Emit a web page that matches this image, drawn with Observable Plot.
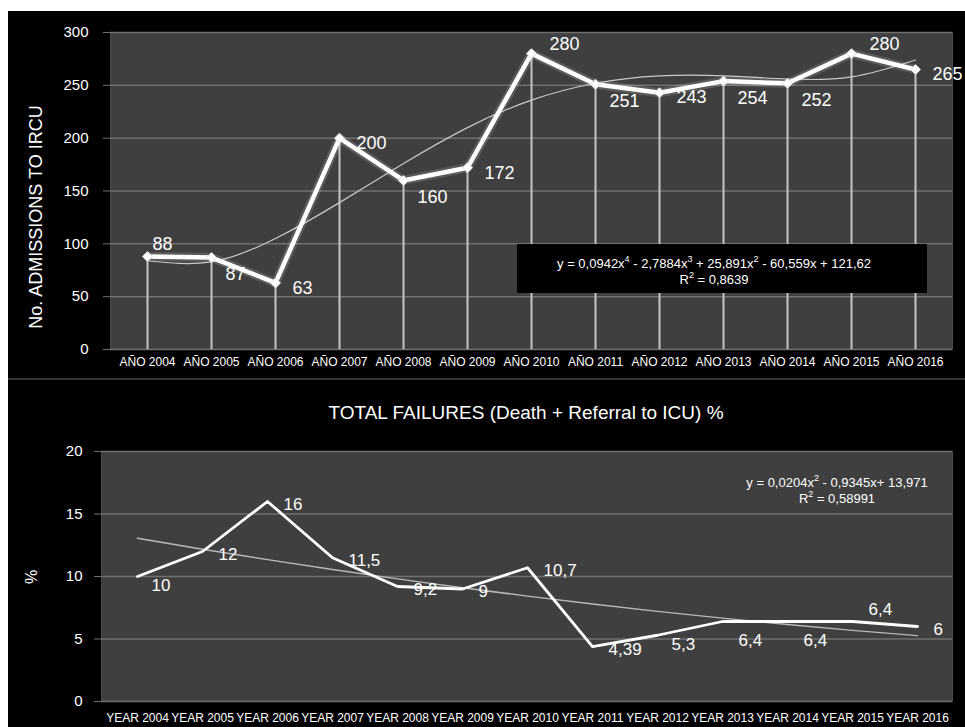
<!DOCTYPE html>
<html>
<head>
<meta charset="utf-8">
<script src="https://cdn.jsdelivr.net/npm/d3@7"></script>
<script src="https://cdn.jsdelivr.net/npm/@observablehq/plot@0.6"></script>
<style>
  html, body { margin: 0; padding: 0; background: #fff; }
  #wrap { position: absolute; left: 8px; top: 11px; width: 957px; height: 716px; background: #000; overflow: hidden;
          font-family: "Liberation Sans", Arial, Helvetica, sans-serif; color: #fff; }
  #chartA { position: absolute; left: 0; top: 0; }
  #sep { position: absolute; left: 0; top: 367px; width: 957px; height: 2px; background: #333; }
  #chartB { position: absolute; left: 0; top: 370px; }
  .rot { position: absolute; transform: translate(-50%, -50%) rotate(-90deg); white-space: nowrap; }
  .ctr { position: absolute; transform: translate(-50%, -50%); white-space: nowrap; text-align: center; }
  #eqbox { position: absolute; left: 509px; top: 233px; width: 410px; height: 49px; background: #000; }
  sup { font-size: 9px; vertical-align: 6px; line-height: 0; }
</style>
</head>
<body>
<div id="wrap">
  <div id="chartA"></div>
  <div id="sep"></div>
  <div id="chartB"></div>
  <div class="rot" style="left:28px; top:206px; font-size:18px;">No. ADMISSIONS TO IRCU</div>
  <div class="rot" style="left:24px; top:566px; font-size:16px;">%</div>
  <div class="ctr" style="left:518px; top:402px; font-size:19px;">TOTAL FAILURES (Death + Referral to ICU) %</div>
  <div id="eqbox"></div>
  <div class="ctr" style="left:706px; top:252px; font-size:13px;">y = 0,0942x<sup>4</sup> - 2,7884x<sup>3</sup> + 25,891x<sup>2</sup> - 60,559x + 121,62</div>
  <div class="ctr" style="left:706px; top:268px; font-size:13px;">R<sup>2</sup> = 0,8639</div>
  <div class="ctr" style="left:829px; top:471px; font-size:13px;">y = 0,0204x<sup>2</sup> - 0,9345x+ 13,971</div>
  <div class="ctr" style="left:829px; top:487px; font-size:13px;">R<sup>2</sup> = 0,58991</div>
</div>
<script>
// ---------- data: top chart ----------
const yearsES = ["AÑO 2004","AÑO 2005","AÑO 2006","AÑO 2007","AÑO 2008","AÑO 2009","AÑO 2010",
                 "AÑO 2011","AÑO 2012","AÑO 2013","AÑO 2014","AÑO 2015","AÑO 2016"];
const admissions = [88, 87, 63, 200, 160, 172, 280, 251, 243, 254, 252, 280, 265];
const admissionsTrend = [84, 83, 105, 139, 176, 210, 236, 252, 259, 259, 256, 258, 274];
const admissionsSide = ["aboveNear","below","right","right","below","right","above",
                        "below","right","below","below","above","right"];
const admissionsTicks = [0, 50, 100, 150, 200, 250, 300];

// ---------- data: bottom chart ----------
const yearsEN = ["YEAR 2004","YEAR 2005","YEAR 2006","YEAR 2007","YEAR 2008","YEAR 2009","YEAR 2010",
                 "YEAR 2011","YEAR 2012","YEAR 2013","YEAR 2014","YEAR 2015","YEAR 2016"];
const failures = [10, 12, 16, 11.5, 9.2, 9, 10.7, 4.39, 5.3, 6.4, 6.4, 6.4, 6];
const failuresText = ["10","12","16","11,5","9,2","9","10,7","4,39","5,3","6,4","6,4","6,4","6"];
const failuresTrend = [13.06, 12.18, 11.35, 10.56, 9.81, 9.10, 8.43, 7.80, 7.21, 6.67, 6.16, 5.69, 5.27];
const failuresSide = ["lowright","right","right","right","right","right","right",
                      "right","lowright","below","below","above","right"];
const failuresTicks = [0, 5, 10, 15, 20];

const FONT = '"Liberation Sans", Arial, Helvetica, sans-serif';
const rowsA = yearsES.map((year, i) => ({year, value: admissions[i], trend: admissionsTrend[i], side: admissionsSide[i]}));
const rowsB = yearsEN.map((year, i) => ({year, value: failures[i], text: failuresText[i], trend: failuresTrend[i], side: failuresSide[i]}));

const offsetsA = {aboveNear: [5, -12], above: [18, -9], right: [17, 5], below: [14, 17]};
const offsetsB = {right: [16, 3], lowright: [14, 9], below: [16, 19], above: [16, -12]};

const labelMarksA = Object.entries(offsetsA).map(([side, [dx, dy]]) =>
  Plot.text(rowsA.filter(d => d.side === side), {x: "year", y: "value", text: d => String(d.value),
    dx, dy, textAnchor: "start", fill: "white", fontSize: 18}));
const labelMarksB = Object.entries(offsetsB).map(([side, [dx, dy]]) =>
  Plot.text(rowsB.filter(d => d.side === side), {x: "year", y: "value", text: "text",
    dx, dy, textAnchor: "start", fill: "white", fontSize: 17}));

const chartA = Plot.plot({
  width: 957, height: 368,
  marginLeft: 102, marginRight: 13, marginTop: 21, marginBottom: 30,
  style: {background: "transparent", color: "white", fontFamily: FONT},
  x: {type: "point", domain: yearsES, padding: 0.5},
  y: {domain: [0, 300]},
  marks: [
    Plot.frame({fill: "#3f3f3f", stroke: "#4a4a4a"}),
    Plot.gridY(admissionsTicks, {stroke: "#707070", strokeOpacity: 1, strokeWidth: 1.5}),
    Plot.axisY(admissionsTicks, {tickSize: 7, tickPadding: 15, stroke: "#707070", fill: "white", fontSize: 15, label: null}),
    Plot.axisX({tickSize: 0, tickPadding: 8, fill: "white", fontSize: 12, label: null}),
    Plot.ruleX(rowsA, {x: "year", y1: 0, y2: "value", stroke: "#c4c4c4", strokeWidth: 2}),
    Plot.line(rowsA, {x: "year", y: "trend", curve: "natural", stroke: "#c8c8c8", strokeWidth: 1.2}),
    Plot.line(rowsA, {x: "year", y: "value", stroke: "white", strokeWidth: 9, strokeOpacity: 0.15}),
    Plot.line(rowsA, {x: "year", y: "value", stroke: "white", strokeWidth: 4.5}),
    Plot.dot(rowsA, {x: "year", y: "value", symbol: "diamond2", r: 4.5, fill: "white", stroke: "#dcdcdc", strokeWidth: 1}),
    ...labelMarksA
  ]
});
document.getElementById("chartA").appendChild(chartA);

const chartB = Plot.plot({
  width: 957, height: 346,
  marginLeft: 93, marginRight: 13, marginTop: 70, marginBottom: 26,
  style: {background: "transparent", color: "white", fontFamily: FONT},
  x: {type: "point", domain: yearsEN, padding: 0.5},
  y: {domain: [0, 20]},
  marks: [
    Plot.frame({fill: "#3f3f3f", stroke: "#4a4a4a"}),
    Plot.gridY(failuresTicks, {stroke: "#707070", strokeOpacity: 1, strokeWidth: 1.5}),
    Plot.axisY(failuresTicks, {tickSize: 7, tickPadding: 12, stroke: "#707070", fill: "white", fontSize: 15, label: null}),
    Plot.axisX({tickSize: 0, tickPadding: 12, fill: "white", fontSize: 12, label: null}),
    Plot.line(rowsB, {x: "year", y: "trend", stroke: "#b8b8b8", strokeWidth: 1.5}),
    Plot.line(rowsB, {x: "year", y: "value", stroke: "white", strokeWidth: 2.8}),
    ...labelMarksB
  ]
});
document.getElementById("chartB").appendChild(chartB);
</script>
</body>
</html>
